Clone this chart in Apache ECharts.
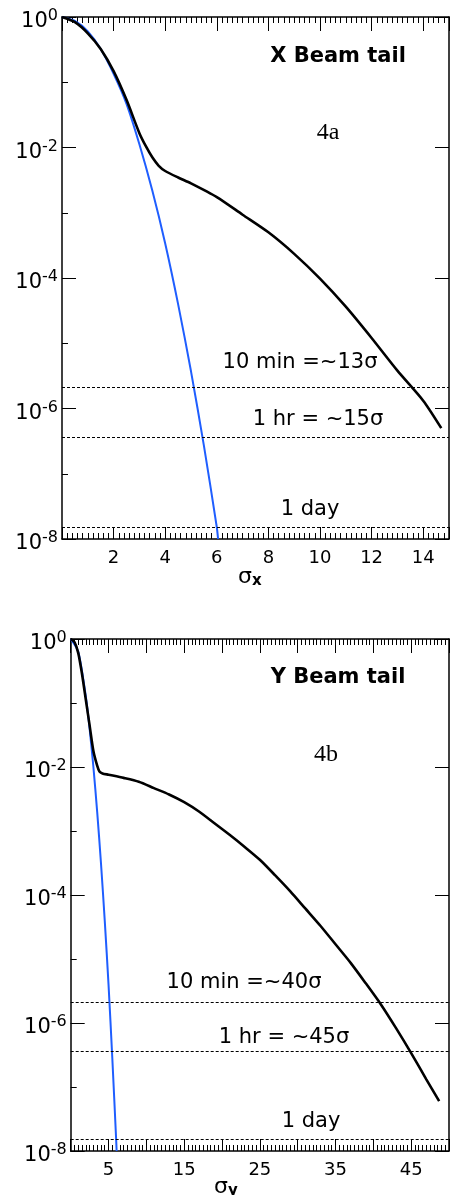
<!DOCTYPE html>
<html>
<head>
<meta charset="utf-8">
<script src="https://cdn.jsdelivr.net/npm/echarts@6/dist/echarts.min.js"></script>
<style>
html, body { margin: 0; padding: 0; background: #fff; }
#main { width: 452px; height: 1195px; }
</style>
</head>
<body>
<div id="main"></div>
<script>
// values are read as powers of ten (the y axis shows 10^n)
// panel 4a: X beam tail
const xTailSigma = [0, 0.5, 1, 1.5, 2, 2.5, 3, 3.25, 3.5, 3.75, 4, 4.5, 5, 6, 7, 8, 9, 10, 11, 12, 13, 14, 14.7];
const xTailExp = [0, -0.08, -0.25, -0.49, -0.83, -1.27, -1.78, -1.98, -2.15, -2.28, -2.36, -2.46, -2.55, -2.76, -3.03, -3.30, -3.63, -4.01, -4.44, -4.92, -5.42, -5.88, -6.30];
const xCoreSigma = [0, 0.5, 1, 1.5, 2, 2.5, 3, 3.5, 4, 4.5, 5, 5.5, 6, 6.05];
const xCoreExp = [0, -0.06, -0.22, -0.49, -0.87, -1.33, -1.95, -2.66, -3.47, -4.40, -5.43, -6.57, -7.82, -8];

// panel 4b: Y beam tail
const yTailSigma = [0, 0.5, 1, 1.5, 2, 2.5, 3, 3.5, 3.8, 4.2, 5, 7, 9, 11, 13, 15, 17, 19, 21, 23, 25, 27, 29, 31, 33, 35, 37, 39, 41, 43, 45, 47, 48.7];
const yTailExp = [0, -0.05, -0.22, -0.55, -0.95, -1.35, -1.75, -1.98, -2.07, -2.10, -2.12, -2.17, -2.23, -2.33, -2.43, -2.55, -2.70, -2.88, -3.06, -3.25, -3.45, -3.69, -3.94, -4.21, -4.48, -4.77, -5.06, -5.38, -5.71, -6.08, -6.47, -6.88, -7.22];
const yCoreSigma = [0, 1, 2, 2.5, 3, 3.5, 4, 4.5, 5, 5.5, 6, 6.07];
const yCoreExp = [0, -0.2, -0.9, -1.4, -2.0, -2.7, -3.5, -4.4, -5.4, -6.55, -7.8, -8];

// lifetime levels (10 min, 1 hr, 1 day)
const lossLevelExp = [-5.67, -6.44, -7.82];
const xLevelText = ['10 min =~13σ', '1 hr = ~15σ', '1 day'];
const yLevelText = ['10 min =~40σ', '1 hr = ~45σ', '1 day'];

const chart = echarts.init(document.getElementById('main'));

const FONT = 'DejaVu Sans';
const black = '#000';
const zip = (xs, ys) => xs.map((x, i) => [x, ys[i]]);

function xAxes(gi, max, step, labelFn) {
    const common = {
        gridIndex: gi, type: 'value', min: 0, max: max, interval: step,
        axisLine: { onZero: false, lineStyle: { color: black, width: 1.5 } },
        minorTick: { show: true, splitNumber: 10, length: 6, lineStyle: { color: black, width: 1 } },
        splitLine: { show: false }
    };
    return [
        Object.assign({}, common, {
            position: 'bottom',
            axisTick: { inside: true, length: 12, lineStyle: { color: black, width: 1 } },
            axisLabel: { formatter: labelFn, fontFamily: FONT, fontSize: 18, color: black, margin: 10 }
        }),
        Object.assign({}, common, {
            position: 'top',
            axisTick: { inside: true, length: 14, lineStyle: { color: black, width: 1 } },
            axisLabel: { show: false }
        })
    ];
}

function yAxes(gi) {
    const base = { gridIndex: gi, type: 'value', min: -8, max: 0, splitLine: { show: false } };
    return [
        Object.assign({}, base, {
            interval: 1, position: 'left',
            axisLine: { onZero: false, lineStyle: { color: black, width: 1.5 } },
            axisTick: { inside: true, length: 6, lineStyle: { color: black, width: 1 } },
            axisLabel: { show: false }
        }),
        Object.assign({}, base, {
            interval: 2, position: 'left',
            axisLine: { show: false, onZero: false },
            axisTick: { inside: true, length: 14, lineStyle: { color: black, width: 1 } },
            axisLabel: {
                margin: 4,
                formatter: v => '{b|10}{s|' + v + '}',
                rich: {
                    b: { fontFamily: FONT, fontSize: 21, lineHeight: 21, color: black, padding: [10, 0, 0, 0] },
                    s: { fontFamily: FONT, fontSize: 16, lineHeight: 16, color: black, padding: [0, 0, 2, 0] }
                }
            }
        }),
        Object.assign({}, base, {
            interval: 2, position: 'right',
            axisLine: { onZero: false, lineStyle: { color: black, width: 1.5 } },
            axisTick: { inside: true, length: 14, lineStyle: { color: black, width: 1 } },
            axisLabel: { show: false }
        })
    ];
}

function levels() {
    return {
        silent: true,
        symbol: ['none', 'none'],
        label: { show: false },
        lineStyle: { color: black, width: 1, type: [3, 2] },
        data: lossLevelExp.map(v => ({ yAxis: v }))
    };
}

function curve(xi, yi, data, color, width, z, withLevels) {
    const s = {
        type: 'line', xAxisIndex: xi, yAxisIndex: yi, data: data,
        symbol: 'none', smooth: 0.25,
        lineStyle: { color: color, width: width }, z: z
    };
    if (withLevels) s.markLine = levels();
    return s;
}

function txt(x, y, text, font) {
    return { type: 'text', x: x, y: y, style: { text: text, font: font, fill: black, textAlign: 'center', textVerticalAlign: 'middle' } };
}

function sigmaName(x, y, sub) {
    return {
        type: 'text', x: x, y: y,
        style: {
            text: '{a|σ}{b|' + sub + '}',
            rich: {
                a: { font: '22px "DejaVu Sans"', fill: black },
                b: { font: 'bold 15px "DejaVu Sans"', fill: black, padding: [8, 0, 0, 0] }
            }
        }
    };
}

const labelFont = '21px "DejaVu Sans"';

const options = {
    animation: false,
    backgroundColor: '#fff',
    grid: [
        { left: 62, top: 17, width: 399.75, height: 522 },
        { left: 70.7, top: 639, width: 392, height: 512 }
    ],
    xAxis: [
        ...xAxes(0, 15, 2, v => (v > 0 && v < 15 && v % 2 === 0) ? String(v) : ''),
        ...xAxes(1, 50, 5, v => (v % 10 === 5) ? String(v) : '')
    ],
    yAxis: [...yAxes(0), ...yAxes(1)],
    series: [
        curve(0, 0, zip(xCoreSigma, xCoreExp), '#1f5eff', 2, 2, false),
        curve(0, 0, zip(xTailSigma, xTailExp), black, 2.6, 3, true),
        curve(2, 3, zip(yCoreSigma, yCoreExp), '#1f5eff', 2, 2, false),
        curve(2, 3, zip(yTailSigma, yTailExp), black, 2.6, 3, true)
    ],
    graphic: [
        txt(338, 57, 'X Beam tail', 'bold 21px "DejaVu Sans"'),
        txt(328, 133, '4a', '24px "Liberation Serif"'),
        txt(300, 363, xLevelText[0], labelFont),
        txt(318, 420, xLevelText[1], labelFont),
        txt(310, 510, xLevelText[2], labelFont),
        txt(338, 678, 'Y Beam tail', 'bold 21px "DejaVu Sans"'),
        txt(326, 755, '4b', '24px "Liberation Serif"'),
        txt(244, 983, yLevelText[0], labelFont),
        txt(284, 1038, yLevelText[1], labelFont),
        txt(311, 1122, yLevelText[2], labelFont),
        sigmaName(238, 566, 'x'),
        sigmaName(214, 1176, 'y')
    ]
};

chart.setOption(options);
</script>
</body>
</html>
